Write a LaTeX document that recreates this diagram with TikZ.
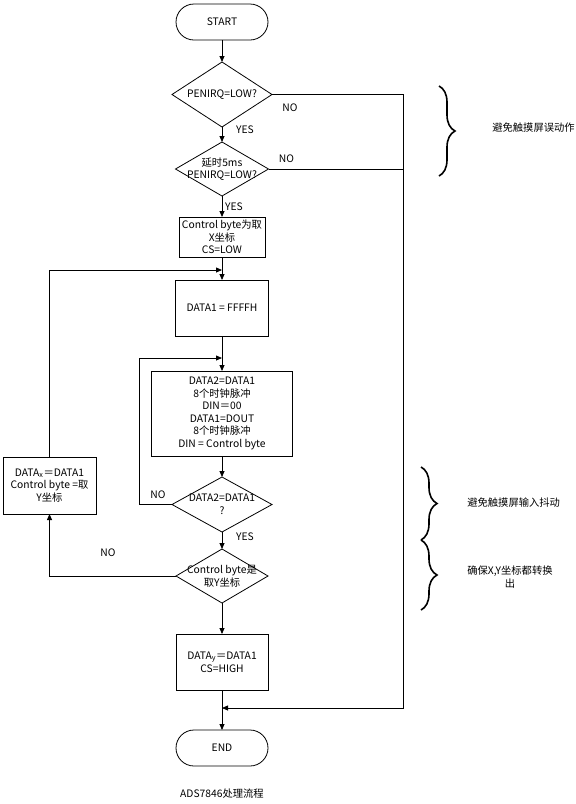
\documentclass[tikz,border=0pt]{standalone}
\usepackage{fontspec}
\setmainfont{Noto Sans CJK SC}
\usetikzlibrary{shapes,arrows.meta,positioning,calc,decorations.pathreplacing}

\begin{document}
\begin{tikzpicture}[
    x=1pt, y=1pt,
    font=\fontsize{10.3}{12.6}\selectfont,
    line width=0.8pt,
    every node/.append style={outer sep=0pt},
    term/.style={rectangle, draw, rounded corners=18pt, minimum width=92pt, minimum height=36pt},
    proc/.style={rectangle, draw, align=center, minimum width=93pt, inner sep=1pt},
    decision/.style={diamond, draw, inner sep=0pt},
    dtext/.style={align=center, inner sep=0pt},
    lbl/.style={inner sep=0pt},
    arrow/.style={-{Triangle[length=6pt,width=5pt]}},
    brace/.style={decorate, decoration={brace, amplitude=16pt}, line width=1.6pt}
]
\useasboundingbox (0,0) rectangle (576,-804);

% Main column
\node[term] (start) at (222,-22) {START};
\node[decision, minimum width=100pt, minimum height=65pt, below=22pt of start, label={[dtext]center:PENIRQ=LOW?}] (dec1) {};
\node[decision, minimum width=93pt, minimum height=54pt, below=15pt of dec1, label={[dtext]center:延时5ms\\PENIRQ=LOW?}] (dec2) {};
\node[proc, minimum width=86pt, minimum height=40pt, below=21pt of dec2] (box1) {Control byte为取\\X坐标\\CS=LOW};
\coordinate[below=13pt of box1] (m1);
\node[proc, minimum height=56pt, below=10pt of m1] (data1) {DATA1 = FFFFH};
\coordinate[below=22pt of data1] (m2);
\node[proc, minimum width=141pt, minimum height=85pt, below=13pt of m2] (data2) {DATA2=DATA1\\8个时钟脉冲\\DIN＝00\\DATA1=DOUT\\8个时钟脉冲\\DIN = Control byte};
\node[decision, minimum width=100pt, minimum height=55pt, below=21pt of data2, label={[dtext]center:DATA2=DATA1\\?}] (dec3) {};
\node[decision, minimum width=92pt, minimum height=54pt, below=17pt of dec3, label={[dtext]center:Control byte是\\取Y坐标}] (dec4) {};
\node[proc, minimum width=92pt, minimum height=56pt, below=31pt of dec4] (datay) {DATA\textsubscript{y}＝DATA1\\CS=HIGH};
\coordinate[below=18pt of datay] (m3);
\node[term, below=22pt of m3] (end) {END};
\node[below=20pt of end] (caption) {ADS7846处理流程};

% Side nodes
\node[proc, minimum width=93pt, minimum height=57pt, left=76pt of dec3, yshift=19pt] (xbox) {DATA\textsubscript{x}＝DATA1\\Control byte =取\\Y坐标};
\coordinate[right=131pt of dec1.east] (rail);
\coordinate[left=33pt of dec3.west] (loop);

% Arrows
\draw[arrow] (start) -- (dec1);
\draw[arrow] (dec1) -- (dec2);
\draw[arrow] (dec2) -- (box1);
\draw[arrow] (box1) -- (data1);
\draw[arrow] (data1) -- (data2);
\draw[arrow] (data2) -- (dec3);
\draw[arrow] (dec3) -- (dec4);
\draw[arrow] (dec4) -- (datay);
\draw[arrow] (datay) -- (end);
\draw[arrow] (dec1.east) -- (rail) |- (m3);
\draw (dec2.east) -- (dec2.east -| rail);
\draw[arrow] (dec3.west) -- (loop) |- (m2);
\draw[arrow] (dec4.west) -| (xbox.south);
\draw[arrow] (xbox.north) |- (m1);

% Labels
\node[lbl, xshift=18pt, yshift=-13pt] (no1) at (dec1.east) {NO};
\node[lbl, xshift=23pt, yshift=-3pt] (yes1) at (dec1.south) {YES};
\node[lbl, xshift=18pt, yshift=10pt] (no2) at (dec2.east) {NO};
\node[lbl, xshift=12pt, yshift=-11pt] (yes2) at (dec2.south) {YES};
\node[lbl, xshift=-14pt, yshift=10pt] (no3) at (dec3.west) {NO};
\node[lbl, xshift=23pt, yshift=-5pt] (yes3) at (dec3.south) {YES};
\node[lbl, xshift=-68pt, yshift=23pt] (no4) at (dec4.west) {NO};

% Notes
\draw[brace] (439,-86) -- (439,-176);
\draw[brace] (421,-467) -- (421,-540);
\draw[brace] (421,-540) -- (421,-610);
\node[anchor=west] (note1) at (489,-128) {避免触摸屏误动作};
\node[anchor=west] (note2) at (464,-503) {避免触摸屏输入抖动};
\node[anchor=west, align=center] (note3) at (464,-577) {确保X,Y坐标都转换\\出};

\end{tikzpicture}
\end{document}
